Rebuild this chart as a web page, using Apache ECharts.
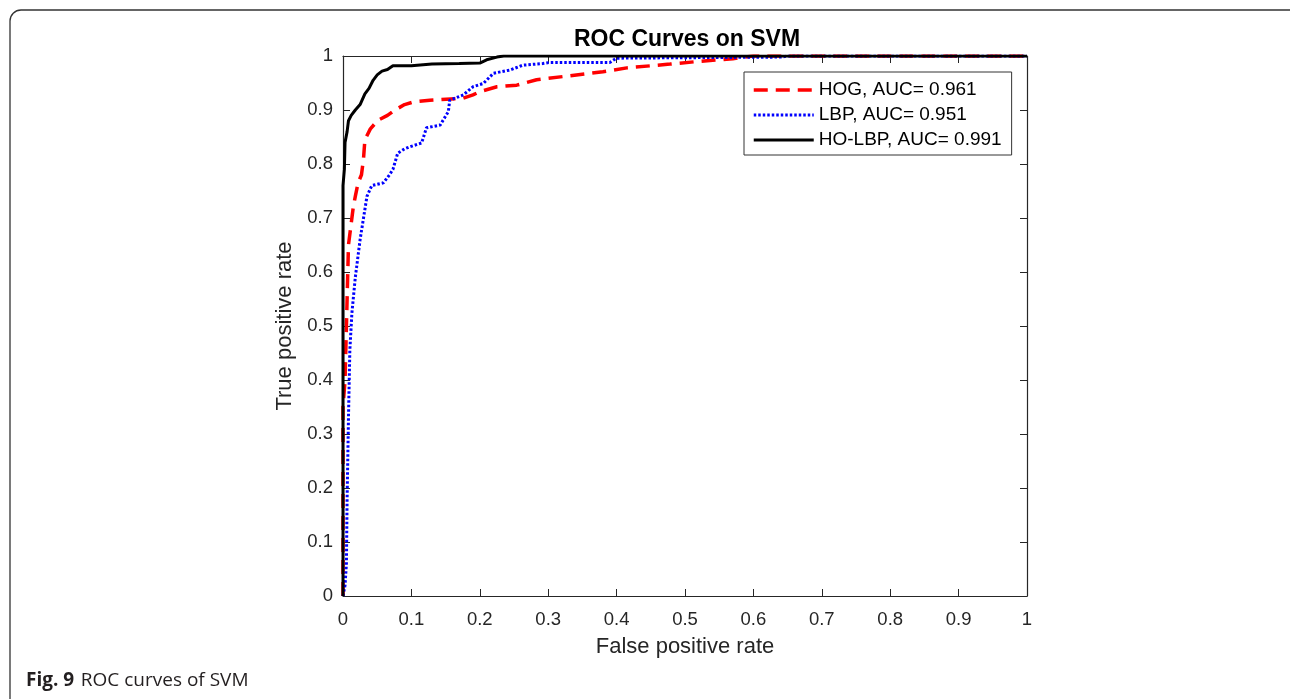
<!DOCTYPE html>
<html>
<head>
<meta charset="utf-8">
<script src="https://cdn.jsdelivr.net/npm/echarts@6/dist/echarts.min.js"></script>
<style>
html,body{margin:0;padding:0;background:#fff;}
#chart{width:1290px;height:699px;}
</style>
</head>
<body>
<div id="chart"></div>
<script>
// ---- Data ----
const titleText = 'ROC Curves on SVM';
const xAxisName = 'False positive rate';
const yAxisName = 'True positive rate';
const seriesNames = ['HOG, AUC= 0.961', 'LBP, AUC= 0.951', 'HO-LBP, AUC= 0.991'];

const hogFpr = [0,0,0.003,0.004,0.005,0.006,0.007,0.008,0.012,0.015,0.018,0.022,0.027,0.03,0.032,0.04,0.051,0.065,0.076,0.09,0.103,0.127,0.176,0.19,0.2,0.225,0.254,0.283,0.322,0.38,0.415,0.478,0.52,0.57,0.6,1];
const hogTpr = [0,0.35,0.40,0.45,0.50,0.55,0.60,0.65,0.69,0.72,0.74,0.765,0.78,0.81,0.845,0.865,0.881,0.89,0.90,0.91,0.915,0.918,0.922,0.928,0.934,0.943,0.946,0.956,0.962,0.971,0.978,0.985,0.99,0.995,1,1];

const lbpFpr = [0,0.003,0.005,0.006,0.008,0.01,0.013,0.018,0.025,0.03,0.035,0.042,0.059,0.068,0.073,0.08,0.09,0.098,0.115,0.122,0.142,0.154,0.156,0.176,0.19,0.205,0.22,0.244,0.263,0.292,0.302,0.39,0.4,0.64,0.65,1];
const lbpTpr = [0,0.02,0.06,0.18,0.33,0.455,0.524,0.59,0.66,0.70,0.74,0.76,0.765,0.78,0.79,0.82,0.828,0.832,0.839,0.867,0.872,0.897,0.918,0.928,0.943,0.949,0.968,0.974,0.983,0.986,0.988,0.988,0.996,0.998,1,1];

const hoFpr = [0,0,0.002,0.003,0.006,0.008,0.012,0.018,0.025,0.032,0.038,0.044,0.05,0.057,0.065,0.073,0.1,0.13,0.17,0.2,0.21,0.225,0.235,1];
const hoTpr = [0,0.76,0.79,0.84,0.86,0.88,0.89,0.90,0.91,0.93,0.94,0.955,0.965,0.972,0.975,0.982,0.982,0.985,0.986,0.987,0.993,0.998,1,1];

const tickValues = [0,0.1,0.2,0.3,0.4,0.5,0.6,0.7,0.8,0.9,1];
const captionBold = 'Fig. 9';
const captionText = 'ROC curves of SVM';

function pairs(xs, ys){ return xs.map((x,i)=>[x, ys[i]]); }

const FONT = '"Liberation Sans", Arial, Helvetica, sans-serif';
const AX = '#262626';

const chart = echarts.init(document.getElementById('chart'), null, {renderer:'canvas'});

function mkAxis(pos, isX, main){
  return {
    type:'value', min:tickValues[0], max:tickValues[tickValues.length-1], interval:0.1, position:pos,
    name: main ? (isX ? xAxisName : yAxisName) : '',
    nameLocation:'middle',
    nameGap: isX ? 40 : 46,
    nameTextStyle:{fontFamily:FONT, fontSize:22, color:AX},
    axisLine:{show:true, onZero:false, lineStyle:{color:AX, width:1.2}},
    axisTick:{show:true, inside:true, length:7, lineStyle:{color:AX, width:1}},
    axisLabel:{show:main, fontFamily:FONT, fontSize:18.5, color:AX, margin: isX ? 14 : 10,
      formatter: v => String(Math.round(v*10)/10)},
    splitLine:{show:false}
  };
}

const lineStyles = [
  {color:'#ff0000', width:3.5, type:[14,8]},
  {color:'#0000ff', width:3, type:[2.5,2]},
  {color:'#000000', width:3, type:'solid'}
];

const option = {
  animation:false,
  backgroundColor:'#fff',
  title:{
    text:titleText, left:682, top:23, textAlign:'center',
    textStyle:{fontFamily:FONT, fontSize:23, fontWeight:'bold', color:'#000'}
  },
  grid:{left:343, right:263, top:56, bottom:103, containLabel:false},
  xAxis:[mkAxis('bottom', true, true), mkAxis('top', true, false)],
  yAxis:[mkAxis('left', false, true), mkAxis('right', false, false)],
  legend:{
    orient:'vertical', left:744, top:72,
    backgroundColor:'#fff', borderColor:'#333', borderWidth:1,
    padding:[8,10,5,8],
    itemWidth:60, itemHeight:20, itemGap:5,
    itemStyle:{opacity:0},
    textStyle:{fontFamily:FONT, fontSize:19, color:'#000', lineHeight:20},
    data:seriesNames.map((n,i)=>({name:n, lineStyle:{width:lineStyles[i].width, type:lineStyles[i].type, color:lineStyles[i].color}}))
  },
  series:[
    {name:seriesNames[0], type:'line', symbol:'none', data:pairs(hogFpr, hogTpr),
     lineStyle:lineStyles[0], itemStyle:{color:'#ff0000'}},
    {name:seriesNames[1], type:'line', symbol:'none', data:pairs(lbpFpr, lbpTpr),
     lineStyle:lineStyles[1], itemStyle:{color:'#0000ff'}},
    {name:seriesNames[2], type:'line', symbol:'none', data:pairs(hoFpr, hoTpr),
     lineStyle:lineStyles[2], itemStyle:{color:'#000'}}
  ],
  graphic:[
    {type:'rect', silent:true, z:-1,
     shape:{x:10, y:10, width:1300, height:720, r:[11,0,0,0]},
     style:{fill:'none', stroke:'#333', lineWidth:1.3}},
    {type:'text', left:26, top:671,
     style:{
       text:'{b|'+captionBold+'}  {n|'+captionText+'}',
       rich:{
         b:{fontFamily:'"Open Sans", "Noto Sans", sans-serif', fontWeight:'bold', fontSize:19, fill:'#231f20'},
         n:{fontFamily:'"Open Sans", "Noto Sans", sans-serif', fontSize:19, fill:'#231f20'}
       }
     }}
  ]
};
chart.setOption(option);
</script>
</body>
</html>
